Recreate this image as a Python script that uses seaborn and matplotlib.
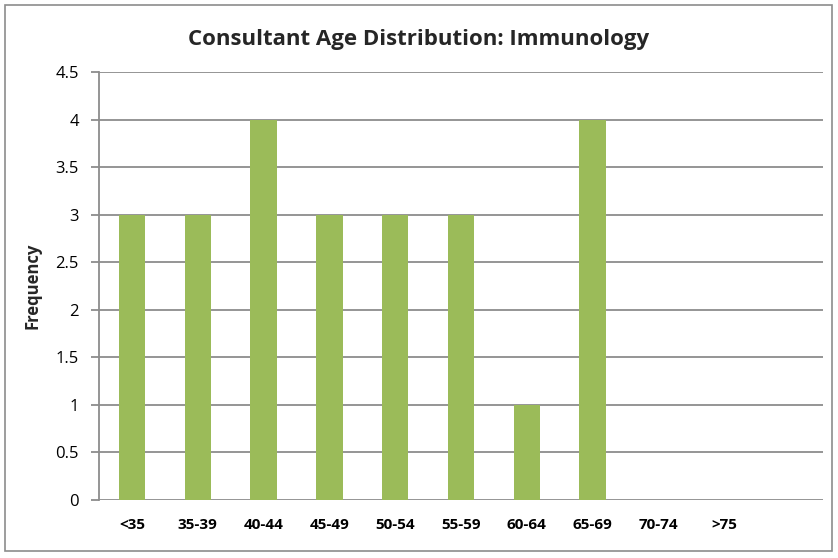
import matplotlib
matplotlib.use("Agg")
import matplotlib.pyplot as plt
import seaborn as sns
import pandas as pd
from matplotlib.patches import Rectangle

categories = ["<35", "35-39", "40-44", "45-49", "50-54", "55-59", "60-64", "65-69", "70-74", ">75"]
frequency = [3, 3, 4, 3, 3, 3, 1, 4, 0, 0]
yticks = [0, 0.5, 1, 1.5, 2, 2.5, 3, 3.5, 4, 4.5]
ytick_labels = ["0", "0.5", "1", "1.5", "2", "2.5", "3", "3.5", "4", "4.5"]

sns.set_theme(style="white")
plt.rcParams["font.family"] = ["Open Sans", "DejaVu Sans"]

df = pd.DataFrame({"Age": categories, "Frequency": frequency})

fig = plt.figure(figsize=(8.38, 5.58), dpi=100)
ax = fig.add_axes([99/838, 1-500/558, (823-99)/838, (500-72)/558])

sns.barplot(data=df, x="Age", y="Frequency", color="#9BBB59", saturation=1,
            width=0.40, linewidth=0, edgecolor="none", ax=ax, zorder=3)

ax.set_xlim(-0.5, 10.5)
ax.set_ylim(0, 4.5)
ax.set_yticks(yticks)
ax.set_yticklabels(ytick_labels, fontsize=12, color="#000000")
ax.set_xticks(range(len(categories)))
ax.set_xticklabels(categories, fontsize=11, fontweight="bold", color="#000000")
ax.grid(axis="y", color="#8C8C8C", linewidth=1.3, zorder=0)
ax.set_axisbelow(True)

for s in ["top", "right", "bottom"]:
    ax.spines[s].set_visible(False)
ax.spines["left"].set_color("#8C8C8C")
ax.spines["left"].set_linewidth(1.3)

ax.tick_params(axis="y", which="major", length=5.5, width=1.3, color="#8C8C8C",
               direction="out", left=True, pad=9)
ax.tick_params(axis="x", length=0, pad=13)

ax.set_xlabel("")
ax.set_ylabel("Frequency", fontsize=12, fontweight="bold")
ax.yaxis.set_label_coords(-0.08, 0.5)

fig.text(0.5, 1-40/558, "Consultant Age Distribution: Immunology", ha="center",
         va="center", fontsize=16, fontweight="bold")

fig.patches.append(Rectangle((5/838, 1-551/558), 827/838, 546/558,
                             transform=fig.transFigure, fill=False,
                             edgecolor="#8C8C8C", linewidth=1.2))

fig.savefig("out.png", dpi=100, facecolor="white")
